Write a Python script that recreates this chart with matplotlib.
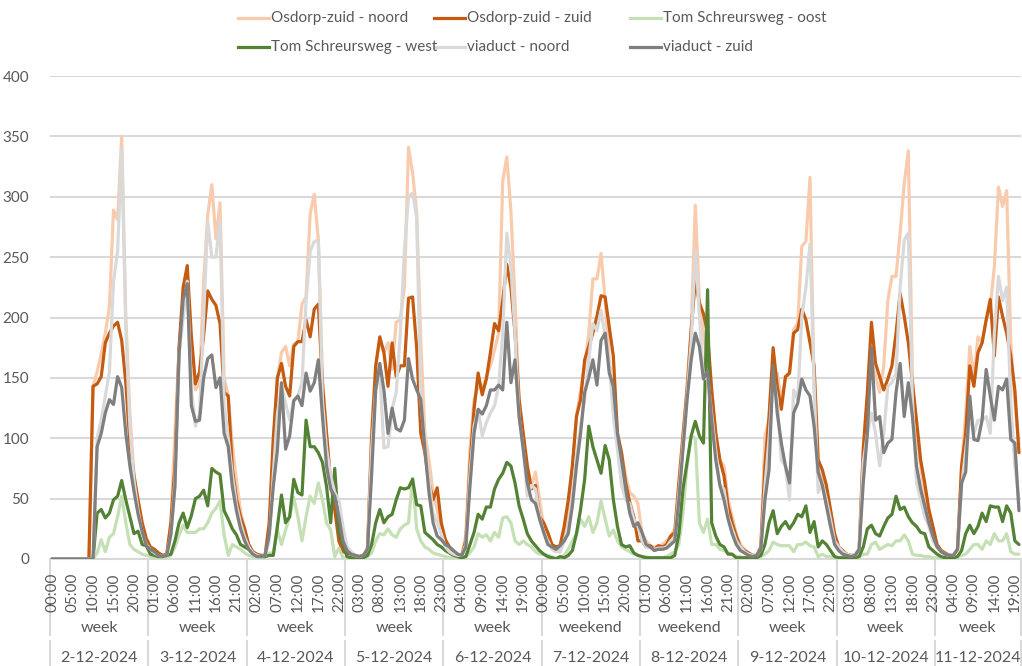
import numpy as np
import matplotlib
matplotlib.use("Agg")
import matplotlib.pyplot as plt
from matplotlib.lines import Line2D

# ---------------- data ----------------
dates = ['2-12-2024', '3-12-2024', '4-12-2024', '5-12-2024', '6-12-2024',
         '7-12-2024', '8-12-2024', '9-12-2024', '10-12-2024', '11-12-2024']
day_types = ['week', 'week', 'week', 'week', 'week',
             'weekend', 'weekend', 'week', 'week', 'week']
hours_per_day = [24, 24, 24, 24, 24, 24, 24, 24, 24, 21]

series_names = ['Osdorp-zuid - noord', 'Osdorp-zuid - zuid', 'Tom Schreursweg - oost',
                'Tom Schreursweg - west', 'viaduct - noord', 'viaduct - zuid']
series_colors = ['#F8CBAD', '#C55A11', '#C5E0B4', '#548235', '#D9D9D9', '#7F7F7F']

osdorp_noord = (
    [0, 0, 0, 0, 0, 0, 0, 0, 0, 0, 143, 155, 170, 187, 209, 289, 281, 350, 200, 120, 70, 45, 25, 12] +
    [8, 5, 3, 2, 3, 30, 105, 175, 215, 235, 170, 140, 145, 230, 285, 310, 265, 295, 150, 135, 95, 65, 40, 25] +
    [12, 6, 3, 2, 3, 20, 93, 150, 171, 176, 160, 178, 180, 211, 217, 286, 302, 264, 150, 104, 63, 69, 35, 12] +
    [8, 5, 3, 2, 3, 10, 107, 160, 181, 171, 179, 157, 196, 198, 225, 341, 320, 286, 180, 104, 82, 55, 41, 21] +
    [10, 6, 3, 2, 3, 20, 91, 132, 143, 140, 151, 160, 173, 187, 313, 333, 288, 214, 132, 104, 77, 61, 72, 49] +
    [27, 21, 12, 8, 6, 15, 35, 77, 118, 140, 160, 187, 232, 232, 253, 214, 165, 132, 104, 88, 69, 55, 52, 46] +
    [21, 15, 11, 10, 11, 12, 15, 19, 25, 65, 105, 145, 190, 293, 214, 187, 160, 140, 104, 82, 77, 49, 35, 21] +
    [12, 8, 5, 3, 3, 10, 102, 115, 154, 154, 132, 149, 154, 190, 195, 259, 263, 316, 140, 77, 69, 52, 38, 19] +
    [10, 6, 4, 3, 3, 8, 91, 132, 165, 151, 138, 160, 214, 234, 234, 270, 311, 338, 150, 104, 77, 52, 41, 22] +
    [12, 7, 4, 3, 3, 8, 77, 120, 176, 151, 184, 179, 198, 209, 242, 308, 292, 305, 180, 130, 95]
)
osdorp_zuid = (
    [0, 0, 0, 0, 0, 0, 0, 0, 0, 0, 143, 145, 151, 179, 187, 193, 196, 181, 146, 96, 69, 49, 30, 17] +
    [10, 8, 5, 3, 4, 30, 77, 175, 225, 243, 185, 145, 155, 185, 222, 215, 210, 195, 138, 135, 75, 50, 35, 25] +
    [12, 6, 4, 3, 3, 30, 100, 150, 162, 143, 135, 176, 180, 180, 198, 184, 207, 211, 145, 104, 63, 41, 15, 6] +
    [5, 4, 3, 2, 3, 8, 100, 160, 184, 171, 143, 179, 151, 160, 160, 216, 217, 175, 104, 88, 63, 49, 59, 30] +
    [16, 10, 6, 4, 3, 15, 77, 124, 154, 136, 149, 171, 195, 189, 214, 244, 225, 187, 132, 104, 77, 58, 61, 35] +
    [30, 22, 12, 10, 11, 27, 49, 77, 118, 132, 165, 176, 187, 201, 218, 217, 192, 168, 104, 88, 63, 47, 35, 15] +
    [15, 10, 11, 8, 11, 10, 12, 19, 22, 63, 102, 140, 190, 231, 212, 203, 187, 140, 104, 82, 69, 44, 30, 19] +
    [10, 7, 5, 3, 3, 10, 77, 118, 175, 143, 124, 151, 154, 187, 190, 207, 198, 179, 160, 82, 74, 61, 41, 21] +
    [10, 7, 4, 3, 3, 8, 91, 138, 196, 162, 151, 140, 149, 160, 187, 220, 201, 179, 146, 115, 82, 63, 41, 27] +
    [12, 7, 5, 3, 3, 8, 77, 104, 160, 143, 171, 179, 198, 215, 168, 217, 201, 187, 168, 140, 88]
)
tom_oost = (
    [0, 0, 0, 0, 0, 0, 0, 0, 0, 0, 0, 5, 16, 6, 18, 21, 35, 52, 30, 12, 8, 6, 4, 3] +
    [2, 1, 1, 1, 1, 3, 10, 20, 28, 22, 22, 22, 25, 25, 30, 38, 42, 48, 20, 3, 12, 10, 8, 5] +
    [3, 2, 1, 1, 1, 5, 5, 24, 12, 24, 35, 51, 35, 15, 35, 52, 46, 63, 49, 30, 24, 2, 9, 1] +
    [1, 1, 1, 1, 1, 2, 5, 15, 21, 20, 25, 20, 18, 25, 28, 30, 67, 25, 15, 10, 8, 5, 4, 3] +
    [2, 1, 1, 1, 1, 2, 5, 10, 21, 18, 20, 15, 22, 18, 34, 35, 30, 15, 12, 15, 12, 10, 6, 4] +
    [4, 3, 2, 1, 1, 3, 8, 15, 21, 33, 27, 35, 22, 30, 48, 33, 19, 24, 15, 10, 8, 6, 4, 3] +
    [2, 2, 1, 1, 1, 1, 2, 4, 6, 12, 38, 77, 102, 100, 30, 22, 33, 12, 12, 8, 7, 5, 4, 2] +
    [2, 1, 1, 1, 1, 2, 4, 7, 14, 12, 11, 11, 11, 6, 12, 12, 14, 11, 10, 2, 4, 2, 2, 1] +
    [1, 1, 1, 1, 1, 2, 4, 4, 12, 14, 8, 10, 12, 11, 15, 15, 20, 15, 4, 3, 3, 2, 2, 1] +
    [1, 1, 1, 1, 1, 2, 3, 4, 8, 12, 12, 8, 15, 12, 21, 15, 15, 21, 6, 4, 4]
)
tom_west = (
    [0, 0, 0, 0, 0, 0, 0, 0, 0, 0, 0, 38, 41, 34, 38, 49, 52, 65, 49, 35, 21, 23, 12, 11] +
    [4, 3, 2, 2, 3, 4, 15, 30, 38, 26, 36, 50, 52, 57, 44, 75, 72, 70, 40, 33, 25, 20, 12, 10] +
    [8, 5, 3, 2, 2, 3, 3, 27, 53, 30, 35, 66, 55, 53, 115, 93, 93, 88, 80, 60, 30, 75, 22, 12] +
    [2, 1, 0, 0, 1, 3, 12, 30, 41, 30, 35, 37, 49, 59, 58, 59, 66, 45, 44, 22, 19, 16, 12, 10] +
    [7, 5, 3, 2, 1, 2, 12, 22, 37, 33, 43, 43, 58, 66, 71, 80, 77, 63, 44, 33, 21, 15, 11, 7] +
    [4, 2, 1, 0, 2, 1, 3, 7, 21, 41, 66, 110, 93, 82, 71, 94, 82, 49, 27, 12, 10, 11, 5, 3] +
    [2, 1, 1, 1, 1, 1, 1, 1, 3, 21, 58, 80, 102, 114, 102, 96, 223, 30, 19, 12, 10, 4, 4, 1] +
    [1, 1, 1, 1, 1, 3, 12, 30, 40, 21, 27, 31, 25, 30, 37, 35, 44, 22, 31, 10, 15, 12, 7, 2] +
    [1, 1, 1, 1, 1, 2, 10, 25, 28, 21, 19, 27, 34, 37, 52, 41, 43, 35, 30, 27, 22, 21, 10, 7] +
    [4, 2, 1, 1, 1, 2, 7, 21, 28, 21, 27, 38, 31, 44, 43, 43, 31, 44, 38, 15, 12]
)
viaduct_noord = (
    [0, 0, 0, 0, 0, 0, 0, 0, 0, 0, 0, 100, 115, 135, 155, 230, 255, 340, 190, 110, 65, 40, 22, 12] +
    [8, 5, 3, 2, 3, 20, 65, 170, 200, 230, 140, 110, 120, 200, 280, 250, 250, 280, 130, 100, 70, 45, 30, 18] +
    [10, 5, 3, 2, 3, 15, 70, 120, 143, 129, 115, 132, 135, 146, 214, 255, 263, 264, 132, 91, 69, 55, 49, 27] +
    [10, 6, 3, 2, 3, 8, 90, 140, 154, 92, 93, 124, 138, 187, 255, 300, 303, 283, 132, 93, 66, 38, 30, 21] +
    [10, 6, 4, 3, 3, 12, 70, 110, 124, 102, 113, 121, 127, 143, 187, 270, 242, 187, 118, 91, 52, 61, 58, 35] +
    [22, 15, 8, 6, 6, 15, 25, 50, 85, 110, 132, 165, 195, 189, 206, 184, 162, 118, 91, 61, 49, 46, 33, 27] +
    [15, 10, 9, 8, 9, 9, 10, 15, 18, 55, 95, 135, 180, 255, 203, 149, 151, 120, 90, 61, 58, 35, 25, 15] +
    [10, 6, 4, 3, 3, 8, 60, 100, 151, 132, 82, 77, 49, 140, 132, 201, 225, 261, 146, 55, 63, 49, 33, 15] +
    [10, 6, 4, 3, 3, 8, 80, 104, 121, 104, 77, 104, 143, 146, 154, 225, 264, 270, 132, 63, 49, 35, 27, 15] +
    [10, 6, 4, 3, 3, 8, 60, 90, 118, 104, 115, 115, 118, 104, 187, 234, 214, 225, 130, 77, 49]
)
viaduct_zuid = (
    [0, 0, 0, 0, 0, 0, 0, 0, 0, 0, 0, 93, 104, 121, 132, 128, 151, 142, 104, 77, 56, 37, 23, 11] +
    [8, 6, 3, 2, 3, 20, 60, 170, 215, 228, 127, 114, 115, 150, 166, 169, 142, 150, 104, 93, 60, 40, 25, 15] +
    [8, 4, 2, 2, 3, 20, 60, 90, 146, 91, 102, 131, 135, 127, 154, 139, 146, 165, 118, 77, 58, 52, 35, 15] +
    [7, 4, 3, 2, 3, 8, 70, 140, 162, 140, 104, 125, 108, 106, 115, 166, 149, 140, 132, 91, 55, 30, 19, 16] +
    [12, 10, 7, 4, 3, 10, 60, 104, 124, 120, 127, 140, 140, 144, 140, 196, 146, 165, 118, 91, 63, 49, 46, 33] +
    [22, 12, 10, 8, 11, 15, 21, 44, 77, 104, 138, 150, 165, 144, 181, 187, 154, 143, 104, 82, 58, 38, 27, 30] +
    [22, 12, 10, 7, 8, 8, 9, 12, 15, 49, 91, 132, 165, 187, 176, 149, 156, 115, 82, 61, 49, 33, 21, 12] +
    [7, 5, 3, 2, 3, 8, 49, 74, 160, 121, 96, 77, 63, 121, 129, 149, 140, 135, 110, 72, 61, 44, 27, 12] +
    [7, 4, 3, 2, 3, 8, 63, 104, 175, 115, 118, 88, 96, 99, 138, 162, 118, 146, 118, 77, 58, 44, 30, 19] +
    [10, 6, 4, 3, 3, 8, 63, 72, 135, 99, 98, 115, 157, 135, 115, 143, 140, 149, 99, 96, 40]
)
series_values = [osdorp_noord, osdorp_zuid, tom_oost, tom_west, viaduct_noord, viaduct_zuid]

y_ticks = [0, 50, 100, 150, 200, 250, 300, 350, 400]

# ---------------- figure ----------------
FONT = ['Lato', 'DejaVu Sans']
plt.rcParams['font.family'] = FONT
TXT = '#595959'
GRID = '#D9D9D9'
FS = 11

W, H = 1022, 666
fig = plt.figure(figsize=(W / 100, H / 100), dpi=100)
ax_l, ax_r, ax_t, ax_b = 50, 1021, 76, 559
ax = fig.add_axes([ax_l / W, 1 - ax_b / H, (ax_r - ax_l) / W, (ax_b - ax_t) / H])

# category labels
hour_labels = []
for n in hours_per_day:
    hour_labels += ['%02d:00' % h for h in range(n)]
N = len(hour_labels)
x = np.arange(N)

for vals, col in zip(series_values, series_colors):
    ax.plot(x, vals, color=col, lw=2.3, solid_joinstyle='round', solid_capstyle='round',
            zorder=3)

ax.set_xlim(-0.5, N - 0.5)
ax.set_ylim(0, 400)
ax.set_yticks(y_ticks)
ax.set_yticklabels([str(v) for v in y_ticks])
ax.yaxis.grid(True, color=GRID, lw=1.5)
ax.set_axisbelow(True)
for s in ['top', 'right', 'left']:
    ax.spines[s].set_visible(False)
ax.spines['bottom'].set_color(GRID)
ax.spines['bottom'].set_linewidth(1.5)
ax.spines['bottom'].set_zorder(1)
ax.tick_params(axis='y', length=0, pad=15, labelsize=FS, labelcolor=TXT)

tick_pos = x[::5]
ax.set_xticks(tick_pos)
ax.set_xticklabels([hour_labels[i] for i in tick_pos], rotation=90)
ax.tick_params(axis='x', length=0, pad=10, labelsize=FS, labelcolor=TXT)

# multi-level category axis
trans = ax.get_xaxis_transform()
ah = ax_b - ax_t
def ay(py):
    return (ax_b - py) / ah

starts = np.concatenate([[0], np.cumsum(hours_per_day)])
for k in range(len(dates)):
    a, b = starts[k], starts[k + 1]
    mid = (a + b - 1) / 2.0
    ax.text(mid, ay(628), day_types[k], transform=trans, ha='center', va='center',
            fontsize=FS + 0.5, color=TXT, clip_on=False)
    ax.text(mid, ay(658), dates[k], transform=trans, ha='center', va='center',
            fontsize=FS + 0.5, color=TXT, clip_on=False)
for b in starts:
    xb = b - 0.5
    ax.plot([xb, xb], [ay(559), ay(636)], transform=trans, color=GRID, lw=1.5,
            clip_on=False, solid_capstyle='butt', zorder=0.5)
    ax.plot([xb, xb], [ay(640), ay(668)], transform=trans, color=GRID, lw=1.5,
            clip_on=False, solid_capstyle='butt', zorder=0.5)

# legend (Excel-like fixed column grid)
col_x = [238, 434, 630]
row_y = [18, 47]
order = [(0, 0), (1, 0), (2, 0), (0, 1), (1, 1), (2, 1)]
for (c, r), name, col in zip(order, series_names, series_colors):
    xl, yl = col_x[c], row_y[r]
    fig.add_artist(Line2D([xl / W, (xl + 31) / W], [1 - yl / H, 1 - yl / H],
                          color=col, lw=2.3, transform=fig.transFigure))
    fig.text((xl + 33) / W, 1 - yl / H, name, ha='left', va='center',
             fontsize=FS, color=TXT)

fig.savefig('out.png', dpi=100)
